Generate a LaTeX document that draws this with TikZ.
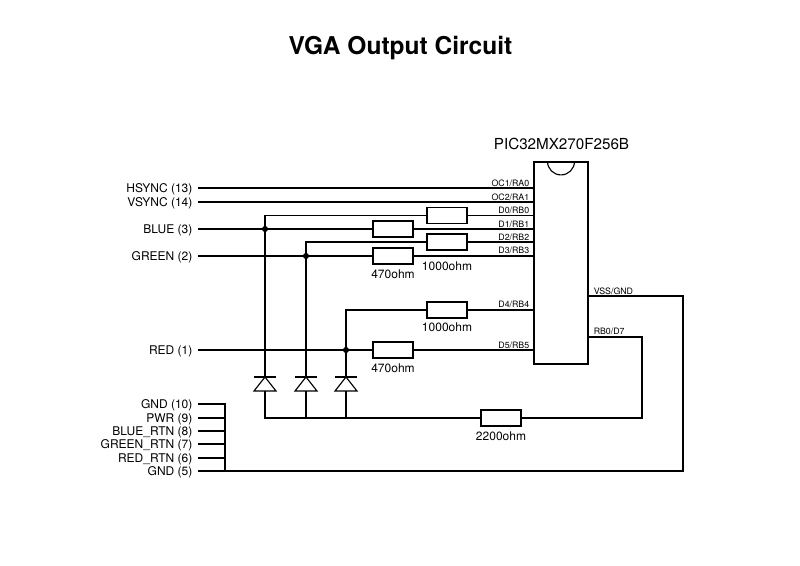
\documentclass[tikz,border=0pt]{standalone}
\usepackage{fontspec}
\setmainfont{TeX Gyre Heros}
\usetikzlibrary{arrows}
\tikzset{
  wire/.style={line width=0.85pt},
  res/.style={draw, wire, rectangle, minimum width=30pt, minimum height=12pt, inner sep=0pt},
  chipbox/.style={draw, wire, rectangle, minimum width=40.5pt, minimum height=151.5pt, inner sep=0pt},
  sig/.style={anchor=east, font=\fontsize{9}{10}\selectfont, inner sep=0pt, inner xsep=4pt, text height=6.5pt, text depth=0pt},
  pinname/.style={font=\fontsize{6.6}{7}\selectfont, inner sep=0pt},
  val/.style={font=\fontsize{9}{10}\selectfont, inner sep=0pt},
  dot/.style={circle, fill, minimum size=4.6pt, inner sep=0pt},
  diode/.pic={
    \coordinate (-a) at (0,-7);
    \coordinate (-k) at (0,7);
    \draw[wire] (-11,-7) -- (11,-7);
    \draw[wire] (0,-7) -- (-11,7) -- (11,7) -- cycle;
  }
}
\begin{document}
\begin{tikzpicture}[x=0.75pt, y=-0.75pt]
\useasboundingbox (0,0) rectangle (800,566);
\node[font=\bfseries\fontsize{18.4}{20}\selectfont] (title) at (400.5,48) {VGA Output Circuit};
\node[chipbox] (chip) at (561,263) {};
\node[font=\fontsize{11.4}{13}\selectfont, inner sep=0pt] (chipname) at (561.5,143.5) {PIC32MX270F256B};
\draw[wire] (chip.north) ++(-13.5,0) coordinate (n1) arc[start angle=180, end angle=0, radius=13.5] coordinate (n2);

% left labels
\node[sig] (hsync) at (198,188) {HSYNC (13)};
\node[sig] (vsync) at (198,202) {VSYNC (14)};
\node[sig] (blue) at (198,229) {BLUE (3)};
\node[sig] (green) at (198,256) {GREEN (2)};
\node[sig] (red) at (198,350) {RED (1)};
\node[sig] (gnda) at (198,404) {GND (10)};
\node[sig] (pwr) at (198,418) {PWR (9)};
\node[sig] (bluertn) at (198,431) {BLUE\_RTN (8)};
\node[sig] (greenrtn) at (198,444) {GREEN\_RTN (7)};
\node[sig] (redrtn) at (198,458) {RED\_RTN (6)};
\node[sig] (gndb) at (198,471) {GND (5)};

% resistors
\node[res] (r1) at (447,215.5) {};
\node[res] (r2) at (393,229) {};
\node[res] (r3) at (447,242) {};
\node[res] (r4) at (393,256) {};
\node[res] (r5) at (447,310) {};
\node[res] (r6) at (393,350) {};
\node[res] (r7) at (501,418) {};
\node[val] at (393,274) {470ohm};
\node[val] at (447,266) {1000ohm};
\node[val] at (447,327.5) {1000ohm};
\node[val] at (393,368) {470ohm};
\node[val] at (501,436) {2200ohm};

% junctions and diodes
\node[dot] (j1) at (265,229) {};
\node[dot] (j2) at (306,256) {};
\node[dot] (j3) at (346,350) {};
\pic (d1) at (265,384) {diode};
\pic (d2) at (306,384) {diode};
\pic (d3) at (346,384) {diode};
\coordinate (c1) at (225,404);
\coordinate (rail) at (265,418);
\coordinate (gc) at (642,337);
\coordinate (vc) at (683,296);

% chip pins
\foreach \nm/\yy/\txt in {a/183/OC1\slash RA0, b/197/OC2\slash RA1, c/210.5/D0\slash RB0, d/224/D1\slash RB1,
  e/237/D2\slash RB2, f/250.5/D3\slash RB3, g/304.5/D4\slash RB4, h/345/D5\slash RB5}
  \node[pinname, anchor=east] (pin\nm) at (529.5,\yy) {\txt};
\node[pinname, anchor=west] (pinv) at (593.5,291) {VSS/GND};
\node[pinname, anchor=west] (pinr) at (593.5,331.5) {RB0/D7};

\draw[wire] (hsync.east) -- (hsync.east -| chip.west);
\draw[wire] (vsync.east) -- (vsync.east -| chip.west);
\draw[wire] (blue.east) -- (r2.west);
\draw[wire] (r2.east) -- (r2.east -| chip.west);
\draw[wire] (green.east) -- (r4.west);
\draw[wire] (r4.east) -- (r4.east -| chip.west);
\draw[wire] (red.east) -- (r6.west);
\draw[wire] (r6.east) -- (r6.east -| chip.west);
\draw[wire] (r1.west) -| (j1.center) -- (d1-a);
\draw[wire] (r1.east) -- (r1.east -| chip.west);
\draw[wire] (r3.west) -| (j2.center) -- (d2-a);
\draw[wire] (r3.east) -- (r3.east -| chip.west);
\draw[wire] (r5.west) -| (j3.center) -- (d3-a);
\draw[wire] (r5.east) -- (r5.east -| chip.west);
\draw[wire] (d1-k) -- (rail) -- (r7.west);
\draw[wire] (d2-k) -- (d2-k |- rail);
\draw[wire] (d3-k) -- (d3-k |- rail);
\draw[wire] (r7.east) -| (gc) -- (gc -| chip.east);
\draw[wire] (gndb.east) -| (vc) -- (vc -| chip.east);
\draw[wire] (gnda.east) -- (c1) -- (c1 |- gndb.east);
\foreach \nm in {pwr,bluertn,greenrtn,redrtn}
  \draw[wire] (\nm.east) -- (\nm.east -| c1);
\end{tikzpicture}
\end{document}
